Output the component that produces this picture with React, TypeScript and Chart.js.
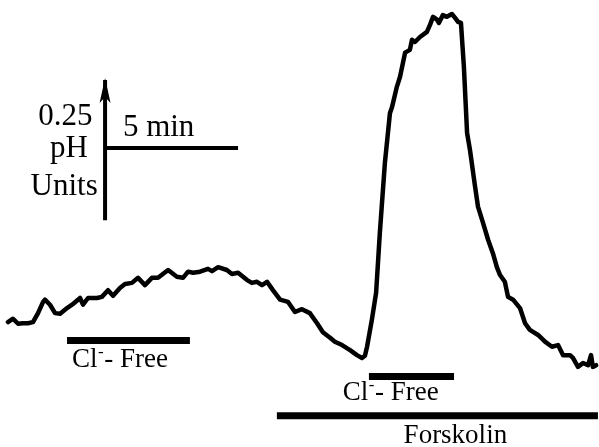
import React, { useEffect, useRef } from "react";
import { Chart, registerables } from "chart.js";

Chart.register(...registerables);

// Trace: time (min) and relative pH (pH units above the lowest plotted level)
const timeMin = [
  0.30, 0.49, 0.68, 0.86, 1.05, 1.24, 1.43, 1.62, 1.69, 1.88, 2.07, 2.26, 2.52, 2.71,
  3.01, 3.12, 3.31, 3.65, 3.83, 4.06, 4.25, 4.51, 4.70, 4.96, 5.19, 5.45, 5.71, 5.94, 6.32, 6.65,
  6.88, 7.07, 7.26, 7.52, 7.82, 7.97, 8.20, 8.53, 8.72, 8.95, 9.29, 9.47, 9.66, 9.85, 10.04, 10.26,
  10.53, 10.83, 11.09, 11.35, 11.65, 11.92, 12.14, 12.41, 12.59, 12.86, 13.16, 13.42, 13.61, 13.72,
  13.80, 13.98, 14.14, 14.28, 14.47, 14.66, 14.74, 14.92, 15.04, 15.23, 15.41, 15.49, 15.60, 15.79,
  16.05, 16.17, 16.28, 16.43, 16.50, 16.65, 16.80, 16.99, 17.11, 17.22, 17.33, 17.44, 17.56, 17.67,
  17.86, 17.97, 18.16, 18.35, 18.53, 18.68, 18.80, 18.98, 19.10, 19.29, 19.55, 19.74, 19.92, 20.23,
  20.49, 20.75, 20.98, 21.17, 21.43, 21.54, 21.73, 21.92, 22.11, 22.22, 22.29, 22.41,
];
const deltaPH = [
  0.223, 0.229, 0.220, 0.221, 0.221, 0.223, 0.239, 0.259, 0.263, 0.254, 0.239, 0.238, 0.248, 0.254,
  0.266, 0.254, 0.266, 0.266, 0.268, 0.280, 0.270, 0.284, 0.291, 0.293, 0.302, 0.289, 0.302, 0.302,
  0.316, 0.304, 0.302, 0.313, 0.311, 0.313, 0.318, 0.314, 0.321, 0.316, 0.309, 0.311, 0.298, 0.293,
  0.295, 0.289, 0.295, 0.280, 0.263, 0.259, 0.241, 0.246, 0.239, 0.221, 0.205, 0.195, 0.188, 0.182,
  0.173, 0.164, 0.159, 0.163, 0.179, 0.227, 0.275, 0.382, 0.507, 0.596, 0.607, 0.643, 0.661, 0.704,
  0.709, 0.727, 0.723, 0.732, 0.741, 0.754, 0.768, 0.763, 0.757, 0.771, 0.768, 0.773, 0.766, 0.759,
  0.757, 0.679, 0.561, 0.530, 0.465, 0.429, 0.400, 0.370, 0.346, 0.321, 0.307, 0.295, 0.268, 0.263,
  0.248, 0.221, 0.209, 0.200, 0.188, 0.179, 0.182, 0.164, 0.164, 0.159, 0.143, 0.150, 0.146, 0.164,
  0.143, 0.146,
];

// Treatment bars: [start, end] in minutes, level in pH units
const clFree1 = [2.52, 7.14];
const clFree1Level = 0.19;
const clFree2 = [13.87, 17.07];
const clFree2Level = 0.126;
const forskolin = [10.41, 22.48];
const forskolinLevel = 0.056;

// Scale bar
const scaleOrigin = [3.95, 0.405];
const scaleMinutes = 5;
const scalePH = 0.25;
const scaleHorizLevel = 0.534;

const xRange = [0, 22.52];
const yRange = [0, 0.798];

const FONT = "'Liberation Serif', 'Times New Roman', serif";

export default function App() {
  const ref = useRef<HTMLCanvasElement | null>(null);

  useEffect(() => {
    document.body.style.margin = "0";
    const canvas = ref.current;
    if (!canvas) return;

    const trace = timeMin.map((t, i) => ({ x: t, y: deltaPH[i] }));
    const bar = (r: number[], lvl: number) => [
      { x: r[0], y: lvl },
      { x: r[1], y: lvl },
    ];
    const hBar = [
      { x: scaleOrigin[0], y: scaleHorizLevel },
      { x: scaleOrigin[0] + scaleMinutes, y: scaleHorizLevel },
    ];
    const vBar = [
      { x: scaleOrigin[0], y: scaleOrigin[1] },
      { x: scaleOrigin[0], y: scaleOrigin[1] + scalePH },
    ];

    const barStyle = {
      borderColor: "#000",
      borderWidth: 7,
      borderCapStyle: "butt" as const,
      pointRadius: 0,
      tension: 0,
    };
    const scaleStyle = {
      borderColor: "#000",
      borderWidth: 4,
      borderCapStyle: "butt" as const,
      pointRadius: 0,
      tension: 0,
    };

    const annotations = {
      id: "annotations",
      afterDatasetsDraw(chart: any) {
        const ctx = chart.ctx as CanvasRenderingContext2D;
        const xs = chart.scales.x;
        const ys = chart.scales.y;
        const px = (v: number) => xs.getPixelForValue(v);
        const py = (v: number) => ys.getPixelForValue(v);
        ctx.save();
        ctx.fillStyle = "#000";
        ctx.textBaseline = "alphabetic";

        // arrow head on the pH scale bar
        const ax = px(scaleOrigin[0]);
        const ay = py(scaleOrigin[1] + scalePH);
        ctx.beginPath();
        ctx.moveTo(ax, ay - 2);
        ctx.lineTo(ax + 5.5, ay + 23);
        ctx.lineTo(ax, ay + 17);
        ctx.lineTo(ax - 5.5, ay + 23);
        ctx.closePath();
        ctx.fill();

        // scale bar labels
        ctx.font = `31px ${FONT}`;
        ctx.textAlign = "center";
        ctx.fillText("0.25", px(2.46), py(0.575));
        ctx.fillText("pH", px(2.59), py(0.518));
        ctx.fillText("Units", px(2.41), py(0.450));
        ctx.textAlign = "left";
        ctx.fillText("5 min", px(4.62), py(0.555));

        const clLabel = (x: number, y: number) => {
          ctx.textAlign = "left";
          ctx.font = `27px ${FONT}`;
          ctx.fillText("Cl", x, y);
          let w = ctx.measureText("Cl").width;
          ctx.font = `17px ${FONT}`;
          ctx.fillText("-", x + w + 0.5, y - 10);
          w += ctx.measureText("-").width + 1;
          ctx.font = `27px ${FONT}`;
          ctx.fillText("- Free", x + w, y);
        };
        clLabel(px(2.71), py(0.143));
        clLabel(px(12.89), py(0.084));

        ctx.font = `27px ${FONT}`;
        ctx.textAlign = "center";
        ctx.fillText("Forskolin", px(17.12), py(0.007));
        ctx.restore();
      },
    };

    const chart = new Chart(canvas, {
      type: "line",
      data: {
        datasets: [
          {
            data: trace,
            borderColor: "#000",
            borderWidth: 4.5,
            borderJoinStyle: "round",
            borderCapStyle: "round",
            pointRadius: 0,
            tension: 0,
          },
          { data: bar(clFree1, clFree1Level), ...barStyle },
          { data: bar(clFree2, clFree2Level), ...barStyle },
          { data: bar(forskolin, forskolinLevel), ...barStyle },
          { data: hBar, ...scaleStyle },
          { data: vBar, ...scaleStyle },
        ],
      },
      options: {
        animation: false,
        responsive: false,
        maintainAspectRatio: false,
        devicePixelRatio: 1,
        layout: { padding: 0 },
        plugins: { legend: { display: false }, tooltip: { enabled: false } },
        elements: { line: { fill: false } },
        scales: {
          x: { type: "linear", min: xRange[0], max: xRange[1], display: false },
          y: { type: "linear", min: yRange[0], max: yRange[1], display: false },
        },
      },
      plugins: [annotations],
    });
    return () => chart.destroy();
  }, []);

  return (
    <div style={{ width: 599, height: 447, background: "#fff" }}>
      <canvas ref={ref} width={599} height={447} />
    </div>
  );
}
